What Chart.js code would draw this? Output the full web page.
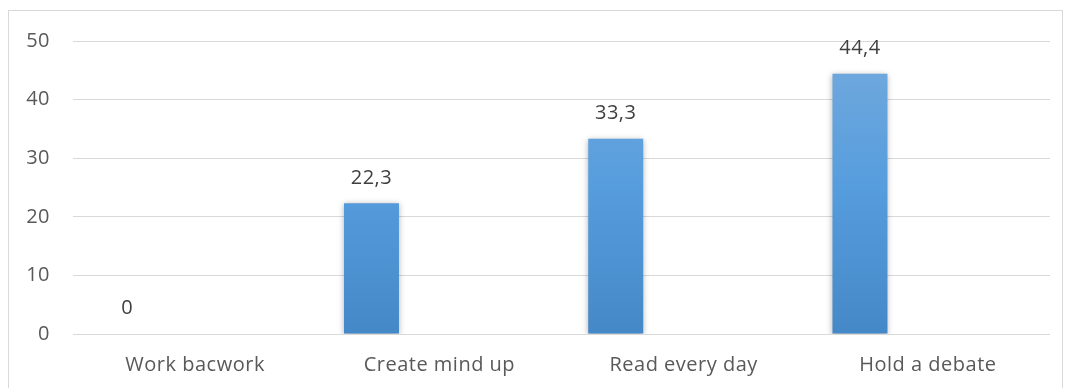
<!DOCTYPE html>
<html><head><meta charset="utf-8">
<script src="https://cdn.jsdelivr.net/npm/chart.js@4"></script>
<style>html,body{margin:0;padding:0;background:#fff}#wrap{width:1065px;height:388px;position:relative}</style>
</head><body><div id="wrap"><canvas id="c" width="1065" height="388"></canvas></div>
<script>
const categories = ["Work bacwork", "Create mind up", "Read every day", "Hold a debate"];
const values = [0, 22.3, 33.3, 44.4];
const spacer = [null, null, null, null];
const yTicks = [0, 10, 20, 30, 40, 50];

const FONT = "'Open Sans', sans-serif";
const FS = 20;
const LS = '0.5px';

const frame = {
  id: 'frame',
  beforeUpdate(chart) { chart.ctx.letterSpacing = LS; },
  beforeDraw(chart) {
    const ctx = chart.ctx;
    ctx.letterSpacing = LS;
    ctx.save();
    ctx.fillStyle = '#fff';
    ctx.fillRect(0, 0, chart.width, chart.height);
    ctx.strokeStyle = '#d9d9d9';
    ctx.lineWidth = 1;
    ctx.strokeRect(8.5, 10.5, 1054, 400);
    ctx.restore();
  },
  beforeDatasetsDraw(chart) {
    const ctx = chart.ctx;
    ctx.save();
    ctx.shadowColor = 'rgba(0,0,0,0.3)';
    ctx.shadowBlur = 6;
    ctx.shadowOffsetX = 0;
    ctx.shadowOffsetY = 1;
  },
  afterDatasetsDraw(chart) {
    chart.ctx.restore();
    const ctx = chart.ctx;
    ctx.save();
    ctx.font = FS + "px " + FONT;
    ctx.fillStyle = '#404040';
    ctx.textAlign = 'center';
    ctx.textBaseline = 'middle';
    chart.getDatasetMeta(0).data.forEach((el, i) => {
      const v = values[i];
      ctx.fillText(String(v).replace('.', ','), el.x, el.y - 25.5);
    });
    ctx.restore();
  }
};

const ctx = document.getElementById('c').getContext('2d');
const grad = (c) => {
  const { chartArea } = c.chart;
  if (!chartArea) return '#5b9bd5';
  const g = c.chart.ctx.createLinearGradient(0, chartArea.top, 0, chartArea.bottom);
  g.addColorStop(0, '#74aadd');
  g.addColorStop(0.5, '#569ddd');
  g.addColorStop(1, '#4588c7');
  return g;
};

new Chart(ctx, {
  type: 'bar',
  data: {
    labels: categories,
    datasets: [
      { data: values, backgroundColor: grad, borderWidth: 0 },
      { data: spacer, backgroundColor: 'rgba(0,0,0,0)', borderWidth: 0 }
    ]
  },
  options: {
    responsive: false,
    animation: false,
    devicePixelRatio: 1,
    categoryPercentage: 1.112,
    barPercentage: 0.405,
    layout: { padding: { top: 41, right: 15, left: 0, bottom: 0 } },
    plugins: { legend: { display: false }, tooltip: { enabled: false } },
    scales: {
      x: {
        grid: { display: false, drawTicks: false },
        border: { display: false },
        ticks: { color: '#595959', font: { family: FONT, size: FS }, padding: 19 },
        afterFit(s) { s.height = 388 - 334; }
      },
      y: {
        min: 0, max: 50,
        afterBuildTicks(s) { s.ticks = yTicks.map(v => ({ value: v })); },
        grid: { color: '#d9d9d9', lineWidth: 1, drawTicks: false },
        border: { display: false },
        ticks: { color: '#595959', font: { family: FONT, size: FS }, padding: 23 },
        afterFit(s) { s.width = 73; }
      }
    }
  },
  plugins: [frame]
});
</script></body></html>
